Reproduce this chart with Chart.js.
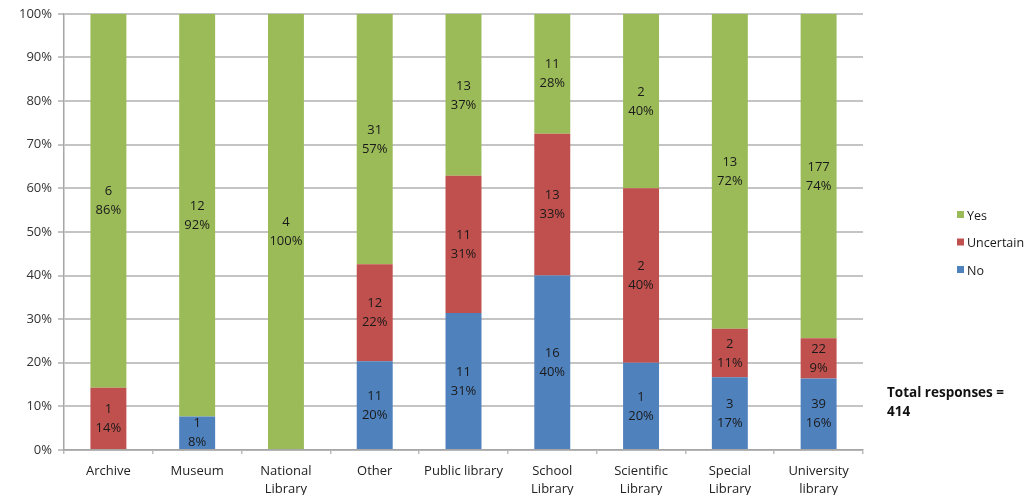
<!DOCTYPE html>
<html>
<head>
<meta charset="utf-8">
<script src="https://cdn.jsdelivr.net/npm/chart.js@4/dist/chart.umd.min.js"></script>
<style>
  html,body{margin:0;padding:0;background:#fff;}
  #wrap{position:relative;width:1035px;height:495px;}
</style>
</head>
<body>
<div id="wrap"><canvas id="c" width="1035" height="495"></canvas></div>
<script>
// ---------- data (counts per answer) ----------
const categories = [
  'Archive', 'Museum', ['National', 'Library'], 'Other', 'Public library',
  ['School', 'Library'], ['Scientific', 'Library'], ['Special', 'Library'], ['University', 'library']
];
const noCounts        = [0, 1, 0, 11, 11, 16, 1, 3, 39];
const uncertainCounts = [1, 0, 0, 12, 11, 13, 2, 2, 22];
const yesCounts       = [6, 12, 4, 31, 13, 11, 2, 13, 177];
const yTicks = [0, 10, 20, 30, 40, 50, 60, 70, 80, 90, 100];
const totalResponses = 414;

const totals = categories.map((_, i) => noCounts[i] + uncertainCounts[i] + yesCounts[i]);
const pct = arr => arr.map((v, i) => v / totals[i] * 100);

const FONT = '"Open Sans", Lato, sans-serif';

// labels in segments, legend on the right, total note
const annot = {
  id: 'annot',
  afterDatasetsDraw(chart){
    const ctx = chart.ctx;
    ctx.save();
    ctx.font = '13px ' + FONT;
    ctx.fillStyle = '#1a1a1a';
    ctx.textAlign = 'center';
    ctx.textBaseline = 'middle';
    chart.data.datasets.forEach((ds, di) => {
      const meta = chart.getDatasetMeta(di);
      meta.data.forEach((bar, i) => {
        const n = ds.counts[i];
        if (!n) return;
        const cy = (bar.y + bar.base) / 2;
        ctx.fillText(String(n), bar.x, cy - 9);
        ctx.fillText(Math.round(ds.data[i]) + '%', bar.x, cy + 10);
      });
    });

    // legend (Yes on top)
    const items = chart.data.datasets.slice().reverse();
    ctx.textAlign = 'left';
    ctx.font = '12.5px ' + FONT;
    items.forEach((ds, k) => {
      const y = 215 + k * 27.5;
      ctx.fillStyle = ds.backgroundColor;
      ctx.fillRect(957, y - 4, 7, 7);
      ctx.fillStyle = '#1a1a1a';
      ctx.fillText(ds.label, 967, y + 1);
    });

    ctx.font = 'bold 13.5px ' + FONT;
    ctx.fillStyle = '#111';
    ctx.fillText('Total responses =', 887, 393);
    ctx.fillText(String(totalResponses), 887, 412);
    ctx.restore();
  }
};

new Chart(document.getElementById('c'), {
  type: 'bar',
  data: {
    labels: categories,
    datasets: [
      { label: 'No', counts: noCounts, data: pct(noCounts), backgroundColor: '#4F81BD' },
      { label: 'Uncertain', counts: uncertainCounts, data: pct(uncertainCounts), backgroundColor: '#C0504D' },
      { label: 'Yes', counts: yesCounts, data: pct(yesCounts), backgroundColor: '#9BBB59' }
    ]
  },
  options: {
    responsive: false,
    animation: false,
    layout: { padding: { top: 12, right: 172, left: 0, bottom: 0 } },
    datasets: { bar: { categoryPercentage: 1, barPercentage: 0.405, borderWidth: 0 } },
    plugins: { legend: { display: false }, tooltip: { enabled: false } },
    scales: {
      x: {
        stacked: true,
        afterFit: s => { s.height = 45; },
        grid: { offset: true, drawOnChartArea: false, drawTicks: true, tickLength: 4, color: '#bdbdbd', lineWidth: 1.5 },
        border: { color: '#a6a6a6', width: 1.5 },
        ticks: { font: { family: FONT, size: 13, lineHeight: 1.4 }, color: '#222', padding: 8, maxRotation: 0, autoSkip: false }
      },
      y: {
        stacked: true,
        min: 0, max: 100,
        afterFit: s => { s.width = 64; },
        afterBuildTicks: s => { s.ticks = yTicks.map(v => ({ value: v })); },
        grid: { color: '#c4c4c4', lineWidth: 2, tickLength: 6 },
        border: { color: '#a6a6a6', width: 1.5 },
        ticks: { font: { family: FONT, size: 13 }, color: '#333', padding: 6, callback: v => v + '%' }
      }
    }
  },
  plugins: [annot]
});
</script>
</body>
</html>
